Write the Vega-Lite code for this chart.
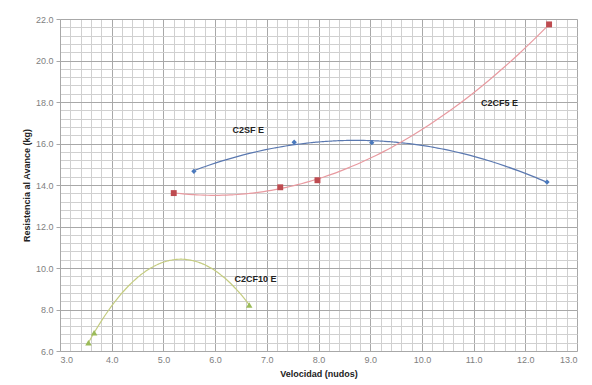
{
  "$schema": "https://vega.github.io/schema/vega-lite/v6.json",
  "autosize": "none",
  "width": 517,
  "height": 332,
  "padding": {"left": 60, "top": 19, "right": 15, "bottom": 34},
  "background": "white",
  "config": {
    "view": {"stroke": null},
    "font": "Liberation Sans"
  },
  "datasets": {
    "pts": [
      {"serie": "C2SF E", "vel": 5.59, "res": 14.66},
      {"serie": "C2SF E", "vel": 7.53, "res": 16.06},
      {"serie": "C2SF E", "vel": 9.03, "res": 16.04},
      {"serie": "C2SF E", "vel": 12.42, "res": 14.14},
      {"serie": "C2CF5 E", "vel": 5.2, "res": 13.61},
      {"serie": "C2CF5 E", "vel": 7.26, "res": 13.89},
      {"serie": "C2CF5 E", "vel": 7.98, "res": 14.23},
      {"serie": "C2CF5 E", "vel": 12.46, "res": 21.74},
      {"serie": "C2CF10 E", "vel": 3.55, "res": 6.40},
      {"serie": "C2CF10 E", "vel": 3.66, "res": 6.88},
      {"serie": "C2CF10 E", "vel": 6.66, "res": 8.22}
    ],
    "labels": [
      {"txt": "C2SF E", "vel": 6.64, "res": 16.65},
      {"txt": "C2CF5 E", "vel": 11.5, "res": 17.97},
      {"txt": "C2CF10 E", "vel": 6.78, "res": 9.45}
    ]
  },
  "resolve": {"axis": {"x": "independent", "y": "independent"}},
  "layer": [
    {
      "data": {"name": "pts"},
      "transform": [
        {"regression": "res", "on": "vel", "groupby": ["serie"], "method": "poly", "order": 2}
      ],
      "mark": {"type": "line", "strokeWidth": 1.2, "interpolate": "monotone"},
      "encoding": {
        "x": {
          "field": "vel", "type": "quantitative",
          "scale": {"domain": [3, 13], "nice": false, "zero": false},
          "axis": {
            "orient": "bottom", "title": null, "labels": false, "ticks": false, "domain": false,
            "grid": true, "gridColor": "#d0d0d0", "gridWidth": 1, "gridOpacity": 1,
            "values": [3,3.2,3.4,3.6,3.8,4,4.2,4.4,4.6,4.8,5,5.2,5.4,5.6,5.8,6,6.2,6.4,6.6,6.8,7,7.2,7.4,7.6,7.8,8,8.2,8.4,8.6,8.8,9,9.2,9.4,9.6,9.8,10,10.2,10.4,10.6,10.8,11,11.2,11.4,11.6,11.8,12,12.2,12.4,12.6,12.8,13]
          }
        },
        "y": {
          "field": "res", "type": "quantitative",
          "scale": {"domain": [6, 22], "nice": false, "zero": false},
          "axis": {
            "orient": "left", "title": null, "labels": false, "ticks": false, "domain": false,
            "grid": true, "gridColor": "#d0d0d0", "gridWidth": 1, "gridOpacity": 1,
            "values": [6,6.4,6.8,7.2,7.6,8,8.4,8.8,9.2,9.6,10,10.4,10.8,11.2,11.6,12,12.4,12.8,13.2,13.6,14,14.4,14.8,15.2,15.6,16,16.4,16.8,17.2,17.6,18,18.4,18.8,19.2,19.6,20,20.4,20.8,21.2,21.6,22]
          }
        },
        "stroke": {
          "field": "serie", "type": "nominal",
          "scale": {"domain": ["C2SF E", "C2CF5 E", "C2CF10 E"], "range": ["#5a78b0", "#e89aa0", "#c4cc80"]},
          "legend": null
        },
        "detail": {"field": "serie"}
      }
    },
    {
      "data": {"name": "pts"},
      "mark": {"type": "point", "filled": true, "opacity": 1},
      "encoding": {
        "x": {
          "field": "vel", "type": "quantitative",
          "axis": {
            "orient": "bottom", "title": "Velocidad (nudos)", "titleFontSize": 9, "titleFontWeight": "bold", "titleColor": "#222",
            "titlePadding": 5,
            "values": [3,4,5,6,7,8,9,10,11,12,13], "format": ".1f",
            "labelFontSize": 9, "labelColor": "#808080", "labelPadding": 4,
            "ticks": false, "domain": false,
            "grid": true, "gridColor": "#a8a8a8", "gridWidth": 1, "gridOpacity": 1
          }
        },
        "y": {
          "field": "res", "type": "quantitative",
          "axis": {
            "orient": "left", "title": "Resistencia al Avance (kg)", "titleFontSize": 9, "titleFontWeight": "bold", "titleColor": "#222",
            "titlePadding": 4,
            "values": [6,8,10,12,14,16,18,20,22], "format": ".1f",
            "labelFontSize": 9, "labelColor": "#808080", "labelPadding": 3,
            "ticks": true, "tickSize": 4, "tickColor": "#a8a8a8", "domain": true, "domainColor": "#a8a8a8",
            "grid": true, "gridColor": "#a8a8a8", "gridWidth": 1, "gridOpacity": 1
          }
        },
        "fill": {
          "field": "serie", "type": "nominal",
          "scale": {"domain": ["C2SF E", "C2CF5 E", "C2CF10 E"], "range": ["#4a79bd", "#be4b50", "#9bbb59"]},
          "legend": null
        },
        "shape": {
          "field": "serie", "type": "nominal",
          "scale": {"domain": ["C2SF E", "C2CF5 E", "C2CF10 E"], "range": ["diamond", "square", "triangle-up"]},
          "legend": null
        },
        "size": {
          "field": "serie", "type": "nominal",
          "scale": {"domain": ["C2SF E", "C2CF5 E", "C2CF10 E"], "range": [28, 42, 34]},
          "legend": null
        }
      }
    },
    {
      "data": {"name": "labels"},
      "mark": {"type": "text", "fontSize": 9, "fontWeight": "bold", "color": "#222"},
      "encoding": {
        "x": {"field": "vel", "type": "quantitative", "axis": null},
        "y": {"field": "res", "type": "quantitative", "axis": null},
        "text": {"field": "txt"}
      }
    }
  ]
}
